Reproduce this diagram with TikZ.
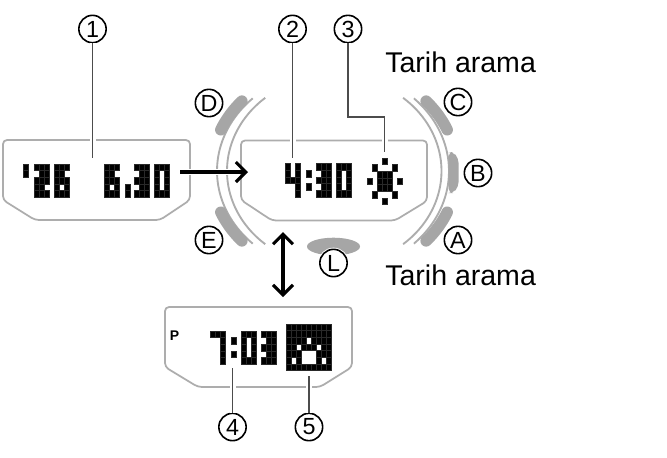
\documentclass[tikz,border=0pt]{standalone}
\usepackage{fontspec}
\setmainfont{Liberation Sans}
\usetikzlibrary{arrows.meta}
\definecolor{panelgray}{gray}{0.68}
\definecolor{btngray}{gray}{0.65}
\definecolor{leadgray}{gray}{0.3}
\definecolor{gridgray}{gray}{0.16}
\tikzset{
  panel/.style={draw=panelgray,line width=1.3pt,rounded corners=3pt},
  rim/.style={draw=panelgray,line width=1.4pt},
  btn/.style={draw=btngray,line width=8.6pt,line cap=round},
  lead/.style={draw=leadgray,line width=1.15pt,preaction={draw=white,line width=4.5pt}},
  callout/.style={circle,draw=black,line width=1.2pt,fill=white,minimum size=20.5pt,inner sep=0pt,font=\fontsize{17.5pt}{17.5pt}\selectfont},
  caption/.style={anchor=base west,inner sep=0pt,font=\fontsize{21.4pt}{22pt}\selectfont},
  link/.style={draw=black,line width=2.3pt,-{Straight Barb[length=7.5pt,width=15pt,line width=2.3pt]}},
  dlink/.style={draw=black,line width=2.3pt,{Straight Barb[length=7.5pt,width=15pt,line width=2.3pt]}-{Straight Barb[length=7.5pt,width=15pt,line width=2.3pt]}},
  cell/.style={fill=black,draw=gridgray,line width=0.3pt}
}
% \lcd{x}{y}{cols}{list of 0/1}
\newcommand\lcd[4]{%
  \edef\lcdlist{#4}%
  \foreach \v [count=\i from 0] in \lcdlist {%
    \ifnum\v=1
      \pgfmathtruncatemacro\cc{mod(\i,#3)}%
      \pgfmathtruncatemacro\rr{int(\i/#3)}%
      \pgfmathsetmacro\xa{#1+5*\cc}%
      \pgfmathsetmacro\ya{#2+6.67*\rr}%
      \path[cell] (\xa,\ya) rectangle ++(5,6.67);
    \fi
  }%
}
\newcommand\digtwo{1,1,1,0,1,1,1,1,1,1,1,0,1,1,1}
\newcommand\digsix{1,1,1,1,1,0,1,1,1,1,0,1,1,1,1}
\newcommand\digthree{1,1,1,0,1,1,1,1,1,0,1,1,1,1,1}
\newcommand\digzero{1,1,1,1,0,1,1,0,1,1,0,1,1,1,1}
\newcommand\digfour{1,0,1,1,0,1,1,1,1,0,0,1,0,0,1}
\newcommand\digseven{1,1,1,0,0,1,0,0,1,0,0,1,0,0,1}
\newcommand\rimarc[5][rim]{\draw[#1] plot[domain=#4:#5,samples=40,smooth] ({334+#2*cos(\x)},{171+#3*sin(\x)});}
\begin{document}
\begin{tikzpicture}[x=0.75pt,y=-0.75pt]
\useasboundingbox (0,0) rectangle (667,457);
\fill[white] (0,0) rectangle (667,457);
% panels
\draw[panel] (3,140) -- (190,140) -- (190,200) -- (160,220) -- (35,220) -- (3,200) -- cycle;
\draw[panel] (241,140.5) -- (427,140.5) -- (427,201) -- (395,220.5) -- (272,220.5) -- (241,200) -- cycle;
\draw[panel] (165,307) -- (352,307) -- (352,367) -- (320,387) -- (198,387) -- (165,367) -- cycle;
% rim
\rimarc{107}{95.5}{130}{230}
\rimarc{117}{101}{134}{226}
\rimarc{107.5}{95.5}{-50}{50}
\rimarc{115}{101}{-46}{46}
% buttons
\rimarc[btn]{123}{105.5}{-41.5}{-23}
\rimarc[btn]{123}{105.5}{23}{41.5}
\rimarc[btn]{123}{105.5}{138.5}{157}
\rimarc[btn]{123}{105.5}{203}{221.5}
\fill[btngray,rounded corners=3.5pt] (448.5,152) -- (453,152) -- (458.5,158) -- (458.5,187) -- (453,193) -- (448.5,193) -- cycle;
\fill[btngray] (333.5,246.5) ellipse (26.5 and 8.8);
% LCD glyphs
\lcd{23}{164}{1}{1,1}
\lcd{34}{164}{3}{\digtwo}
\lcd{54}{164}{3}{\digsix}
\lcd{104}{164}{3}{\digsix}
\lcd{125}{184}{1}{1,1}
\lcd{134}{164}{3}{\digthree}
\lcd{154}{164}{3}{\digzero}
\lcd{285}{163.5}{3}{\digfour}
\lcd{306}{163.5}{1}{0,1,0,1}
\lcd{316}{163.5}{3}{\digthree}
\lcd{336}{163.5}{3}{\digzero}
\lcd{366.7}{157.7}{7}{0,0,0,1,0,0,0,0,1,0,0,0,1,0,0,0,1,1,1,0,0,1,0,1,1,1,0,1,0,0,1,1,1,0,0,0,1,0,0,0,1,0,0,0,0,1,0,0,0}
\lcd{210}{331}{3}{\digseven}
\lcd{231}{331}{1}{0,1,0,1}
\lcd{241}{331}{3}{\digzero}
\lcd{261}{331}{3}{\digthree}
\lcd{286.5}{324}{9}{1,1,1,1,1,1,1,1,1,1,1,1,1,1,1,1,1,1,1,1,1,1,0,1,1,1,1,1,1,0,1,1,1,0,1,1,1,1,1,0,0,0,1,1,1,1,0,1,0,0,0,1,0,1,1,1,1,1,1,1,1,1,1}
\node[inner sep=0pt,font=\bfseries\fontsize{10.5pt}{11pt}\selectfont] (p) at (174.5,336) {P};
% callouts
\node[callout] (n1) at (92.5,29) {1};
\node[callout] (n2) at (292.5,29) {2};
\node[callout] (n3) at (348,29) {3};
\node[callout] (n4) at (232.5,427) {4};
\node[callout] (n5) at (309,427) {5};
\node[callout] (nD) at (209,103) {D};
\node[callout] (nC) at (458,102) {C};
\node[callout] (nB) at (478,173) {B};
\node[callout] (nA) at (458,240) {A};
\node[callout] (nE) at (209,240) {E};
\node[callout,preaction={draw=white,line width=2.5pt}] (nL) at (333.5,263) {L};
\node[caption] (t1) at (385,72) {Tarih arama};
\node[caption] (t2) at (385,285) {Tarih arama};
% leaders
\coordinate (e1) at (92.5,158);
\coordinate (e2) at (292.5,158);
\coordinate (b3) at (348,117);
\coordinate (c3) at (384.5,117);
\coordinate (e3) at (384.5,152);
\coordinate (e4) at (232.5,368);
\coordinate (e5) at (309,376);
\draw[lead] (n1) -- (e1);
\draw[lead] (n2) -- (e2);
\draw[lead] (n3) -- (b3) -- (c3) -- (e3);
\draw[lead] (n4) -- (e4);
\draw[lead] (n5) -- (e5);
% arrows
\coordinate (a1) at (180,172);
\coordinate (a2) at (248,172);
\coordinate (v1) at (283,232);
\coordinate (v2) at (283,297);
\draw[white,line width=5pt] (a1) -- (236,172);
\draw[link] (a1) -- (a2);
\draw[dlink] (v1) -- (v2);
\end{tikzpicture}
\end{document}
